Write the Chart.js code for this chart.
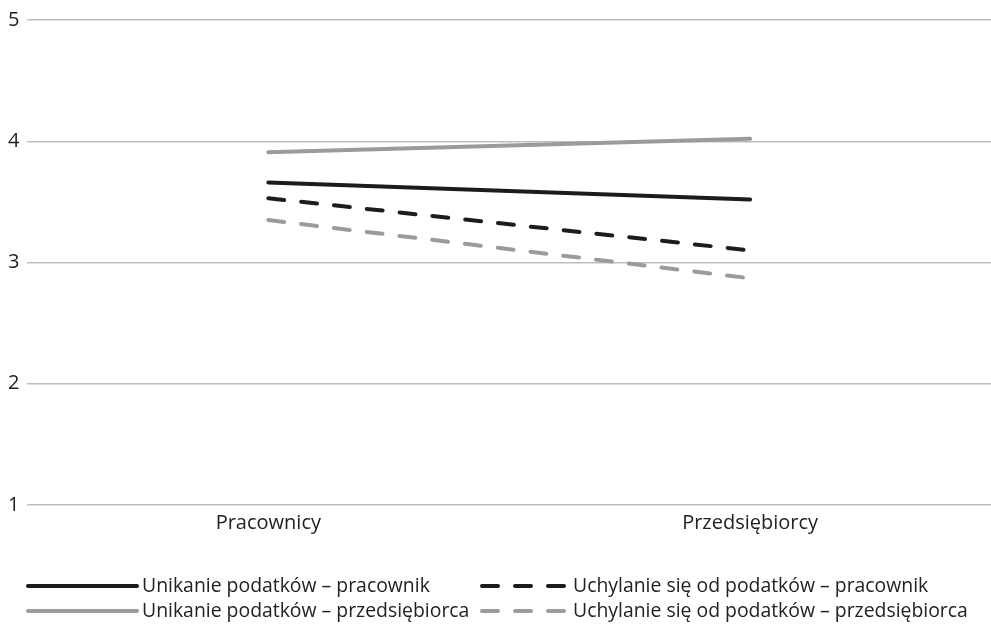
<!DOCTYPE html>
<html>
<head>
<meta charset="utf-8">
<script src="https://cdn.jsdelivr.net/npm/chart.js@4"></script>
<style>
  html, body { margin: 0; padding: 0; background: #fff; }
  #wrap { position: relative; width: 991px; height: 629px; }
</style>
</head>
<body>
<div id="wrap"><canvas id="myChart"></canvas></div>
<script>
// Data
const categories = ['Pracownicy', 'Przedsiębiorcy'];
const unikaniePracownik = [3.66, 3.52];
const unikaniePrzedsiebiorca = [3.91, 4.02];
const uchylaniePracownik = [3.53, 3.10];
const uchylaniePrzedsiebiorca = [3.35, 2.87];
const yTicks = [1, 2, 3, 4, 5];

const BLACK = '#1c1c1c';
const GREY = '#9b9b9b';
const FONT = "'Open Sans', 'Noto Sans', sans-serif";
const FONT_SIZE = 20;

const ctx = document.getElementById('myChart').getContext('2d');

// Legend drawn under the plot in two columns, like the original figure
const bottomLegend = {
  id: 'bottomLegend',
  afterDraw(chart) {
    const c = chart.ctx;
    const cols = [28, 482];
    const rows = [586, 611];
    const sampleW = [109, 86];
    c.save();
    c.font = '19.4px ' + FONT;
    c.textBaseline = 'middle';
    c.fillStyle = '#222';
    chart.data.datasets.forEach((ds, i) => {
      const col = i < 2 ? 0 : 1;
      const row = i % 2;
      const x = cols[col], y = rows[row];
      c.beginPath();
      c.lineWidth = 4;
      c.lineCap = 'round';
      c.strokeStyle = ds.borderColor;
      c.setLineDash(ds.borderDash || []);
      c.moveTo(x, y);
      c.lineTo(x + sampleW[col], y);
      c.stroke();
      c.setLineDash([]);
      c.fillText(ds.label, x + sampleW[col] + 5, y);
    });
    c.restore();
  }
};

const myChart = new Chart(ctx, {
  type: 'line',
  data: {
    labels: categories,
    datasets: [
      { label: 'Unikanie podatków – pracownik', data: unikaniePracownik, borderColor: BLACK },
      { label: 'Unikanie podatków – przedsiębiorca', data: unikaniePrzedsiebiorca, borderColor: GREY },
      { label: 'Uchylanie się od podatków – pracownik', data: uchylaniePracownik, borderColor: BLACK, borderDash: [16, 17] },
      { label: 'Uchylanie się od podatków – przedsiębiorca', data: uchylaniePrzedsiebiorca, borderColor: GREY, borderDash: [16, 17] }
    ]
  },
  options: {
    responsive: true,
    maintainAspectRatio: false,
    animation: false,
    devicePixelRatio: 1,
    layout: { padding: { left: 0, right: 0, top: 7, bottom: 88 } },
    elements: {
      line: { borderWidth: 4, borderCapStyle: 'round', tension: 0, fill: false },
      point: { radius: 0, hoverRadius: 0 }
    },
    scales: {
      x: {
        offset: true,
        grid: { display: false, drawTicks: false },
        border: { display: false },
        ticks: { color: '#222', font: { family: FONT, size: FONT_SIZE }, padding: 6 }
      },
      y: {
        min: 1,
        max: 5,
        afterBuildTicks: axis => { axis.ticks = yTicks.map(v => ({ value: v })); },
        grid: { color: '#bdbdbd', lineWidth: 1.5, drawTicks: false },
        border: { display: false },
        ticks: { color: '#222', font: { family: FONT, size: FONT_SIZE }, padding: 8 }
      }
    },
    plugins: {
      legend: { display: false },
      tooltip: { enabled: false }
    }
  },
  plugins: [bottomLegend]
});
</script>
</body>
</html>
